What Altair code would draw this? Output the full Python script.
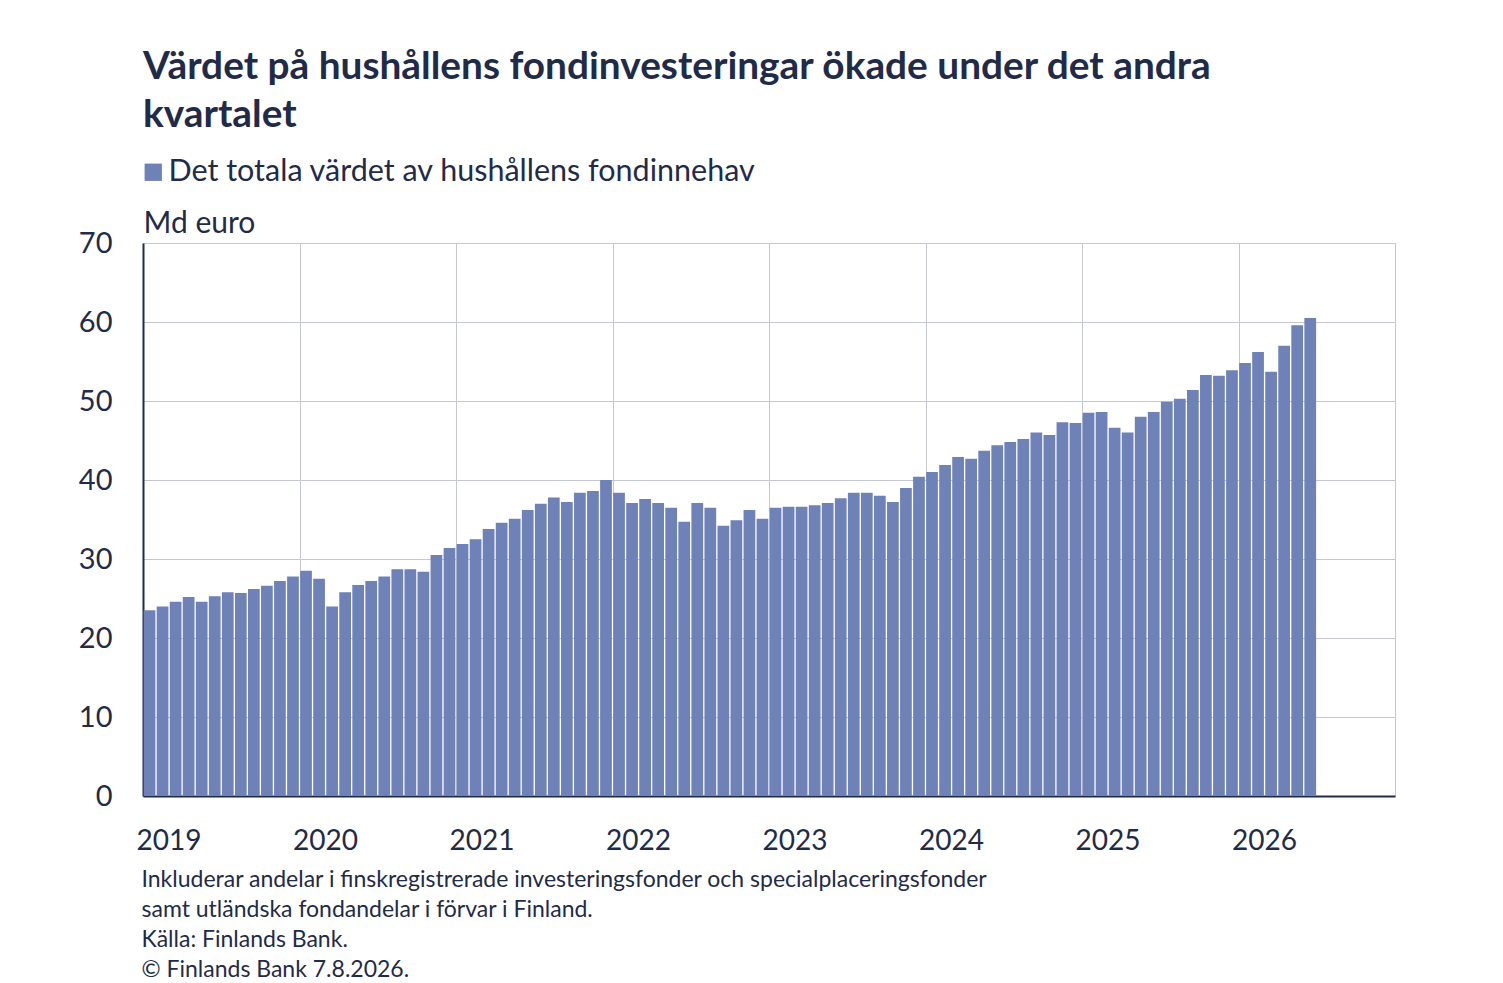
import altair as alt
import pandas as pd

# ---- data ----
title_lines = ["Värdet på hushållens fondinvesteringar ökade under det andra", "kvartalet"]
series_name = "Det totala värdet av hushållens fondinnehav"
y_unit = "Md euro"
years = ["2019", "2020", "2021", "2022", "2023", "2024", "2025", "2026"]
values = [
    23.5, 24.0, 24.6, 25.2, 24.6, 25.3, 25.8, 25.7, 26.2, 26.6, 27.2, 27.8,   # 2019
    28.5, 27.5, 24.0, 25.8, 26.7, 27.2, 27.8, 28.7, 28.7, 28.4, 30.5, 31.4,   # 2020
    31.9, 32.5, 33.8, 34.6, 35.1, 36.2, 37.0, 37.8, 37.2, 38.4, 38.6, 40.0,   # 2021
    38.4, 37.1, 37.6, 37.1, 36.5, 34.7, 37.1, 36.5, 34.2, 34.9, 36.2, 35.1,   # 2022
    36.5, 36.6, 36.6, 36.8, 37.1, 37.7, 38.4, 38.4, 38.0, 37.2, 39.0, 40.4,   # 2023
    41.0, 41.9, 42.9, 42.7, 43.7, 44.4, 44.8, 45.2, 46.0, 45.7, 47.3, 47.2,   # 2024
    48.5, 48.6, 46.6, 46.0, 48.0, 48.6, 49.9, 50.3, 51.4, 53.3, 53.2, 53.9,   # 2025
    54.8, 56.2, 53.7, 57.0, 59.6, 60.5,                                       # 2026
]
footer_lines = [
    "Inkluderar andelar i finskregistrerade investeringsfonder och specialplaceringsfonder",
    "samt utländska fondandelar i förvar i Finland.",
    "Källa: Finlands Bank.",
    "© Finlands Bank 7.8.2026.",
]

months = pd.date_range("2019-01-01", periods=len(values), freq="MS").strftime("%Y-%m").tolist()
df = pd.DataFrame({"month": months, "value": values, "series": series_name})
df["idx"] = list(range(len(df)))

n_slots = 12 * len(years)
tick_vals = [12 * i for i in range(len(years) + 1)]
label_arr = "[" + ",".join("'%s'" % y for y in years) + ",'']"

FONT = "Lato"
TXT = "#1f2b48"
GRID = "#c6c8d1"
BAR = "#6f82b8"

chart = (
    alt.Chart(df)
    .transform_calculate(x0="datum.idx + 0.05", x1="datum.idx + 0.95")
    .mark_bar(color=BAR)
    .encode(
        x=alt.X(
            "x0:Q",
            scale=alt.Scale(domain=[0, n_slots], nice=False, zero=False),
            axis=alt.Axis(
                values=tick_vals,
                labelExpr=label_arr + "[round(datum.value / 12)]",
                grid=True,
                gridColor=GRID,
                gridWidth=1,
                ticks=False,
                domainColor=TXT,
                domainWidth=2,
                labelFont=FONT,
                labelFontSize=28,
                labelColor=TXT,
                labelAlign="left",
                labelBaseline="alphabetic",
                labelPadding=53,
                labelOffset=-7,
                labelFlush=False,
                labelOverlap=False,
                title=footer_lines,
                titleFont=FONT,
                titleFontSize=23,
                titleFontWeight="normal",
                titleColor=TXT,
                titleAlign="left",
                titleAnchor="start",
                titleBaseline="alphabetic",
                titleLineHeight=30,
                titleX=-2,
                titleY=90,
            ),
        ),
        x2="x1:Q",
        y=alt.Y(
            "value:Q",
            scale=alt.Scale(domain=[0, 70], nice=False),
            axis=alt.Axis(
                values=[0, 10, 20, 30, 40, 50, 60, 70],
                grid=True,
                gridColor=GRID,
                gridWidth=1,
                ticks=False,
                domainColor=TXT,
                domainWidth=2,
                labelFont=FONT,
                labelFontSize=29,
                labelColor=TXT,
                labelPadding=31,
                title=y_unit,
                titleFont=FONT,
                titleFontSize=30,
                titleFontWeight="normal",
                titleColor=TXT,
                titleAngle=0,
                titleAlign="left",
                titleBaseline="alphabetic",
                titleX=0,
                titleY=-11,
            ),
        ),
        y2=alt.datum(0),
        color=alt.Color(
            "series:N",
            scale=alt.Scale(range=[BAR]),
            legend=alt.Legend(
                title=None,
                orient="none",
                legendX=-5,
                legendY=-86,
                symbolType="square",
                symbolSize=300,
                symbolStrokeWidth=0,
                labelFont=FONT,
                labelFontSize=30.5,
                labelColor=TXT,
                labelOffset=0,
                labelLimit=900,
            ),
        ),
    )
    .properties(
        width=1252,
        height=553,
        title=alt.TitleParams(
            text=title_lines,
            anchor="start",
            frame="group",
            font=FONT,
            fontSize=38.8,
            fontWeight="bold",
            color=TXT,
            lineHeight=48,
            offset=22,
        ),
        autosize=alt.AutoSizeParams(type="none"),
        padding={"left": 135, "top": 235, "right": 60, "bottom": 184},
    )
    .configure_view(stroke=GRID, strokeWidth=1)
    .configure(background="white")
)

chart.save("out.html", embed_options={"renderer": "svg", "actions": False})
